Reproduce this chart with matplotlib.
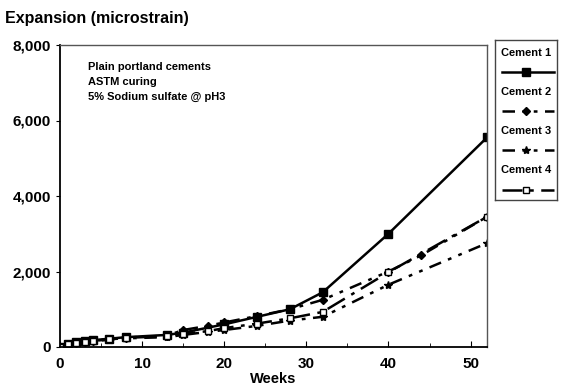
import matplotlib.pyplot as plt
from matplotlib.lines import Line2D

plt.rcParams['font.family'] = ['Liberation Sans', 'DejaVu Sans']
plt.rcParams['font.weight'] = 'bold'

# Data
weeks1 = [0, 1, 2, 3, 4, 6, 8, 13, 15, 20, 24, 28, 32, 40, 52]
cement1 = [0, 80, 120, 150, 180, 220, 260, 320, 380, 600, 800, 1000, 1450, 3000, 5550]

weeks2 = [0, 1, 2, 3, 4, 6, 8, 13, 15, 18, 20, 24, 28, 32, 40, 44, 52]
cement2 = [0, 70, 110, 140, 170, 210, 250, 300, 450, 560, 650, 820, 1000, 1250, 2000, 2430, 3450]

weeks3 = [0, 1, 2, 3, 4, 6, 8, 13, 15, 18, 20, 24, 28, 32, 40, 52]
cement3 = [0, 60, 100, 130, 160, 190, 230, 260, 320, 400, 450, 560, 700, 800, 1650, 2750]

weeks4 = [0, 1, 2, 3, 4, 6, 8, 13, 15, 18, 20, 24, 28, 32, 40, 52]
cement4 = [0, 70, 100, 130, 160, 200, 240, 290, 350, 420, 500, 620, 760, 930, 1980, 3450]

labels = ['Cement 1', 'Cement 2', 'Cement 3', 'Cement 4']
styles = [
    dict(linestyle='-', marker='s', markersize=6, mfc='black'),
    dict(linestyle=(0, (5, 3, 1.5, 3, 1.5, 3)), marker='D', markersize=4, mfc='black'),
    dict(linestyle=(0, (5, 3, 1.5, 3, 1.5, 3)), marker='*', markersize=6, mfc='black'),
    dict(linestyle=(0, (8, 3, 1.5, 3)), marker='s', markersize=5, mfc='white'),
]
series = [(weeks1, cement1), (weeks2, cement2), (weeks3, cement3), (weeks4, cement4)]

fig = plt.figure(figsize=(5.67, 3.9), dpi=100)
ax = fig.add_axes([60 / 567, 43 / 390, 427 / 567, 302 / 390])

for (x, y), st in zip(series, styles):
    ax.plot(x, y, color='black', linewidth=1.8, mec='black', **st)

ax.set_xlim(0, 52)
ax.set_ylim(0, 8000)
ax.set_xticks([0, 10, 20, 30, 40, 50])
ax.set_xticks([5, 15, 25, 35, 45], minor=True)
ax.set_yticks([0, 2000, 4000, 6000, 8000])
ax.set_yticklabels(['0', '2,000', '4,000', '6,000', '8,000'])
ax.tick_params(axis='x', direction='in', length=4, labelsize=11, pad=7)
ax.tick_params(axis='x', which='minor', direction='in', length=3)
ax.tick_params(axis='y', direction='out', length=3, labelsize=11)
for lab in ax.get_xticklabels() + ax.get_yticklabels():
    lab.set_fontweight('bold')
for s in ['top', 'right']:
    ax.spines[s].set_color('#555555')
    ax.spines[s].set_linewidth(1.0)
for s in ['left', 'bottom']:
    ax.spines[s].set_linewidth(1.3)

ax.set_xlabel('Weeks', fontsize=10.5, fontweight='bold', labelpad=1)
fig.text(5 / 567, 1 - 19 / 390, 'Expansion (microstrain)', fontsize=11.5,
         fontweight='bold', va='center', ha='left')

ax.text(0.066, 0.943, 'Plain portland cements\nASTM curing\n5% Sodium sulfate @ pH3',
        transform=ax.transAxes, fontsize=8, fontweight='bold', va='top',
        linespacing=1.6)

# Legend box with label above each line sample
lax = fig.add_axes([495 / 567, 1 - 200 / 390, 62 / 567, 160 / 390])
lax.set_xlim(0, 1)
lax.set_ylim(0, 1)
lax.set_xticks([])
lax.set_yticks([])
for s in lax.spines.values():
    s.set_color('#444444')
    s.set_linewidth(1.0)
for i, (lab, st) in enumerate(zip(labels, styles)):
    ty = 0.92 - i * 0.245
    lax.text(0.5, ty, lab, fontsize=8, fontweight='bold', ha='center', va='center')
    ly = ty - 0.12
    lax.add_line(Line2D([0.12, 0.5, 0.95], [ly, ly, ly], color='black', linewidth=1.8,
                        mec='black', markevery=[1], **st))

fig.savefig('out.png', dpi=100)
